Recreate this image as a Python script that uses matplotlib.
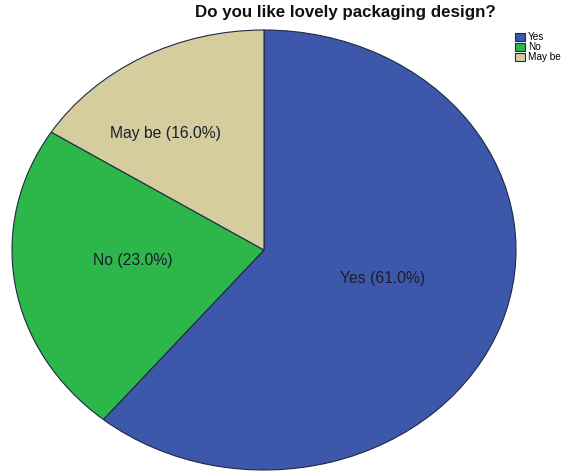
import matplotlib.pyplot as plt
import matplotlib as mpl

mpl.rc('font', family=['Liberation Sans', 'DejaVu Sans'])

categories = ['Yes', 'No', 'May be']
percents = [61.0, 23.0, 16.0]
colors = ['#3d57ab', '#2db64a', '#d6cd9f']
title = 'Do you like lovely packaging design?'

# where each slice label sits, in units of the pie radii
label_pos = [(0.47, -0.13), (-0.52, -0.05), (-0.39, 0.53)]

W, H = 570, 471
cx, cy = 264, 250      # pie centre in pixels (y from top)
rx, ry = 252, 220      # the pie is stretched into an ellipse

fig = plt.figure(figsize=(W / 100, H / 100), dpi=100)
ax = fig.add_axes([0, 0, 1, 1])
wedges, _ = ax.pie(percents, colors=colors, startangle=90, counterclock=False,
                   radius=1, wedgeprops=dict(edgecolor='#1e2a40', linewidth=0.8))
ax.set_aspect('auto')
ax.set_xlim(-cx / rx, (W - cx) / rx)
ax.set_ylim(-(H - cy) / ry, cy / ry)
ax.axis('off')

for cat, p, (lx, ly) in zip(categories, percents, label_pos):
    ax.text(lx, ly, f'{cat} ({p:.1f}%)', ha='center', va='center',
            fontsize=11.3, color='#1c1c2c')

fig.text(345 / W, 1 - 13 / H, title, ha='center', va='center',
         fontsize=12.2, fontweight='bold', color='#111111')

fig.legend(wedges, categories, loc='upper left', bbox_to_anchor=(515 / W, 1 - 32 / H),
           frameon=False, fontsize=7.2, handlelength=1.0, handleheight=0.85,
           handletextpad=0.3, labelspacing=0.0, borderpad=0, borderaxespad=0)

fig.savefig('out.png', dpi=100)
